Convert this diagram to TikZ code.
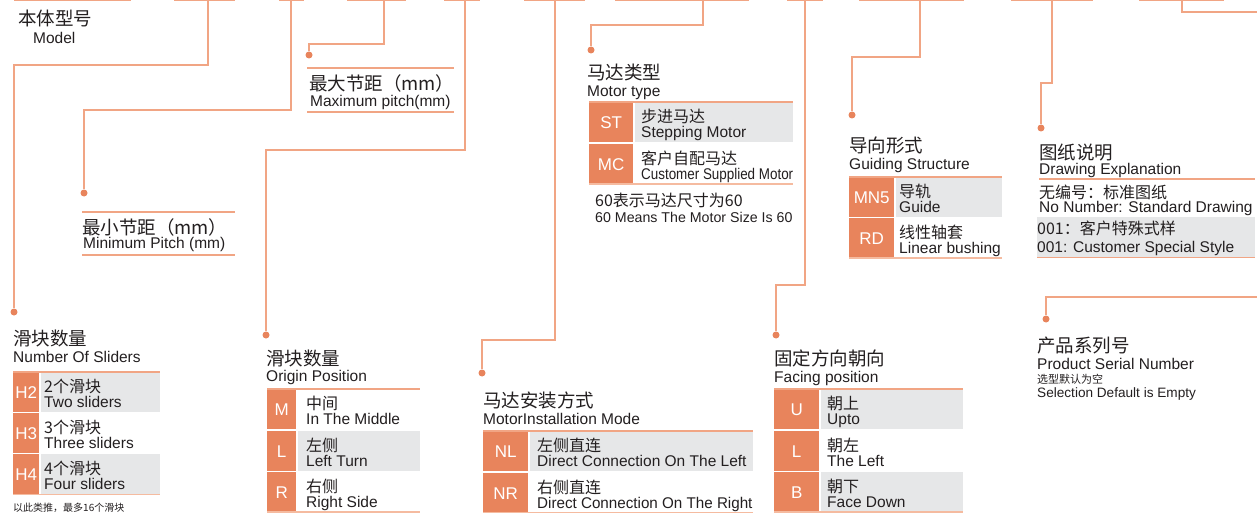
\documentclass[tikz,border=0pt]{standalone}
\usepackage{fontspec}
\setmainfont{Liberation Sans}
\newfontfamily\cjk{Noto Sans CJK SC}
\definecolor{codeor}{HTML}{E8845C}
\definecolor{rowgray}{HTML}{E6E7E8}
\definecolor{linec}{HTML}{F1A584}
\definecolor{linelt}{HTML}{F5BBA0}
\definecolor{dotc}{HTML}{E8845C}
\definecolor{textc}{HTML}{231F20}
\tikzset{
  conn/.style={draw=linec, line width=1.1pt},
  topseg/.style={draw=linec, line width=1.8pt},
  rulen/.style={draw=linec, line width=1.1pt},
  rulelt/.style={draw=linelt, line width=1.1pt},
  dotn/.style={circle, fill=dotc, inner sep=0pt, minimum size=7pt},
  cnt/.style={font=\cjk\fontsize{18.5}{18.5}\selectfont, text=textc, inner sep=0pt, anchor=west, text height=14.1pt, text depth=0pt},
  ent/.style={font=\fontsize{15.5}{15.5}\selectfont, text=textc, inner sep=0pt, anchor=west, text height=11.1pt, text depth=0pt},
  cnr/.style={font=\cjk\fontsize{16}{16}\selectfont, text=textc, inner sep=0pt, anchor=west, text height=12.2pt, text depth=0pt},
  enr/.style={font=\fontsize{15.5}{15.5}\selectfont, text=textc, inner sep=0pt, anchor=west, text height=11.1pt, text depth=0pt},
  codecell/.style={fill=codeor, text=white, font=\fontsize{17}{17}\selectfont, inner sep=0pt, anchor=north west, text height=12.2pt, text depth=0pt},
  desccell/.style={inner sep=0pt, anchor=north west},
}
% #1 name, #2 x, #3 y, #4 fill, #5 code, #6 cn, #7 en ; uses \cw \tw \ins
\newcommand\trow[7]{%
  \node[codecell, minimum width=\cw*1pt, minimum height=39.5pt] (#1c) at (#2,#3) {#5};
  \node[desccell, fill=#4, minimum width={(\tw-\cw-1.5)*1pt}, minimum height=39.5pt] (#1d) at ({#2+\cw+1.5},#3) {};
  \node[cnr] (#1cn) at ([xshift=\ins pt, yshift=-14pt]#1d.north west) {#6};
  \node[enr] (#1en) at ([xshift=\ins pt, yshift=-30pt]#1d.north west) {#7};
}
\begin{document}
\begin{tikzpicture}[x=1pt, y=-1pt]
\useasboundingbox (0,0) rectangle (1257,513);
\fill[white] (0,0) rectangle (1257,513);

% top segments (bottoms of the code boxes)
\foreach \a/\b in {14/131, 174/235, 279/304, 347/406, 444/480, 524/585, 615/749, 787/823, 859/964, 1011/1093, 1139/1224}
  \draw[topseg] (\a,0.5) -- (\b,0.5);

% dots
\node[dotn] (d1) at (14,312) {};
\node[dotn] (d2) at (84,193) {};
\node[dotn] (d3) at (309,55) {};
\node[dotn] (d4) at (266,335) {};
\node[dotn] (d5) at (482,373) {};
\node[dotn] (d6) at (591,50) {};
\node[dotn] (d7) at (776,335) {};
\node[dotn] (d8) at (852,115) {};
\node[dotn] (d9) at (1041,128) {};
\node[dotn] (d11) at (1046,319) {};

% free ends
\coordinate (t1) at (208,0);
\coordinate (t2) at (291,0);
\coordinate (t3) at (384,0);
\coordinate (t4) at (465,0);
\coordinate (t5) at (555,0);
\coordinate (t6) at (703,0);
\coordinate (t7) at (805,0);
\coordinate (t8) at (920,0);
\coordinate (t9) at (1052,0);
\coordinate (t10) at (1182,0);
\coordinate (e10) at (1257,12);
\coordinate (r11) at (1257,297);

% connectors
\draw[conn] (t1) -- ++(0,65) -| (d1);
\draw[conn] (t2) -- ++(0,110) -| (d2);
\draw[conn] (t3) -- ++(0,44) -| (d3);
\draw[conn] (t4) -- ++(0,150) -| (d4);
\draw[conn] (t5) -- ++(0,340) -| (d5);
\draw[conn] (t6) -- ++(0,25) -| (d6);
\draw[conn] (t7) -- ++(0,285) -| (d7);
\draw[conn] (t8) -- ++(0,57) -| (d8);
\draw[conn] (t9) -- ++(0,83) -| (d9);
\draw[conn] (t10) |- (e10);
\draw[conn] (r11) -| (d11);

% Model
\node[cnt] (modcn) at (18,18) {本体型号};
\node[ent] (moden) at (33,38) {Model};

% Max pitch
\draw[rulen] (307,68) -- (454,68);
\node[cnt] (maxcn) at (309,83) {最大节距（mm）};
\node[ent] (maxen) at (310,101) {Maximum pitch(mm)};
\draw[rulen] (307,112) -- (454,112);

% Min pitch
\draw[rulen] (82,212) -- (235,212);
\node[cnt] (mincn) at (82,227) {最小节距（mm）};
\node[ent] (minen) at (83,243) {Minimum Pitch (mm)};
\draw[rulen] (82,255) -- (235,255);

% Number of sliders
\node[cnt] (slcn) at (13,338) {滑块数量};
\node[ent] (slen) at (13,357) {Number Of Sliders};
\def\cw{26}\def\tw{147}\def\ins{3.5}
\trow{h2}{13}{372}{rowgray}{H2}{2个滑块}{Two sliders}
\trow{h3}{13}{413}{white}{H3}{3个滑块}{Three sliders}
\trow{h4}{13}{454}{rowgray}{H4}{4个滑块}{Four sliders}
\draw[rulen] (13,372) -- (160,372);
\draw[rulelt] (13,494.5) -- (160,494.5);
\node[cnr, font=\cjk\fontsize{10}{10}\selectfont, text height=7.6pt] (slnote) at (13,508) {以此类推，最多16个滑块};

% Origin position
\node[cnt] (orcn) at (266,358) {滑块数量};
\node[ent] (oren) at (266,376) {Origin Position};
\def\cw{29}\def\tw{153}\def\ins{8.5}
\trow{om}{267}{389}{white}{M}{中间}{In The Middle}
\trow{ol}{267}{431}{rowgray}{L}{左侧}{Left Turn}
\trow{or}{267}{472}{white}{R}{右侧}{Right Side}
\draw[rulen] (267,389) -- (420,389);
\draw[rulelt] (267,512) -- (420,512);

% Motor installation mode
\node[cnt] (micn) at (483,400) {马达安装方式};
\node[ent] (mien) at (483,419) {MotorInstallation Mode};
\def\cw{45}\def\tw{270}\def\ins{7.5}
\trow{nl}{483}{431}{rowgray}{NL}{左侧直连}{Direct Connection On The Left}
\trow{nr}{483}{473}{white}{NR}{右侧直连}{\scalebox{0.98}[1]{Direct Connection On The Right}}
\draw[rulen] (483,431) -- (753,431);
\draw[rulelt] (483,512.5) -- (753,512.5);

% Motor type
\node[cnt] (mtcn) at (587,72) {马达类型};
\node[ent] (mten) at (587,91) {Motor type};
\def\cw{44}\def\tw{204}\def\ins{6.5}
\trow{st}{589}{102}{rowgray}{ST}{步进马达}{Stepping Motor}
\trow{mc}{589}{144}{white}{MC}{客户自配马达}{\scalebox{0.865}[1]{Customer Supplied Motor}}
\draw[rulen] (589,102) -- (793,102);
\draw[rulelt] (589,184) -- (793,184);
\node[cnr] (mtn1) at (595,200) {60表示马达尺寸为60};
\node[enr, font=\fontsize{14.2}{14.2}\selectfont, text height=10.2pt] (mtn2) at (595,217) {60 Means The Motor Size Is 60};

% Guiding structure
\node[cnt] (gscn) at (849,145) {导向形式};
\node[ent] (gsen) at (849,164) {Guiding Structure};
\def\cw{45}\def\tw{153}\def\ins{3.5}
\trow{mn}{849}{177}{rowgray}{MN5}{导轨}{Guide}
\trow{rd}{849}{218}{white}{RD}{线性轴套}{Linear bushing}
\draw[rulen] (849,177) -- (1002,177);
\draw[rulelt] (849,258) -- (1002,258);

% Drawing explanation
\node[cnt] (decn) at (1039,152) {图纸说明};
\node[ent] (deen) at (1039,169) {Drawing Explanation};
\draw[rulen] (1039,179) -- (1255,179);
\node[cnr] (de1cn) at (1039,192) {无编号：标准图纸};
\node[enr] (de1en) at (1039,207) {No Number: Standard Drawing};
\node[desccell, fill=rowgray, minimum width=218pt, minimum height=40pt] (de2) at (1037,217) {};
\node[cnr] (de2cn) at (1037,228) {001：客户特殊式样};
\node[enr] (de2en) at (1037,247) {001: Customer Special Style};
\draw[rulen] (1037,257.5) -- (1255,257.5);

% Product serial number
\node[cnt] (pscn) at (1037,345) {产品系列号};
\node[ent] (psen) at (1037,364) {Product Serial Number};
\node[cnr, font=\cjk\fontsize{11}{11}\selectfont, text height=8.4pt] (ps1) at (1037,379) {选型默认为空};
\node[enr, font=\fontsize{13.6}{13.6}\selectfont, text height=9.8pt] (ps2) at (1037,393) {Selection Default is Empty};

% Facing position
\node[cnt] (fpcn) at (774,358) {固定方向朝向};
\node[ent] (fpen) at (774,377) {Facing position};
\def\cw{45}\def\tw{189}\def\ins{6.5}
\trow{fu}{774}{389}{rowgray}{U}{朝上}{Upto}
\trow{fl}{774}{431}{white}{L}{朝左}{The Left}
\trow{fb}{774}{472}{rowgray}{B}{朝下}{Face Down}
\draw[rulen] (774,389) -- (963,389);
\draw[rulelt] (774,512) -- (963,512);
\end{tikzpicture}
\end{document}
